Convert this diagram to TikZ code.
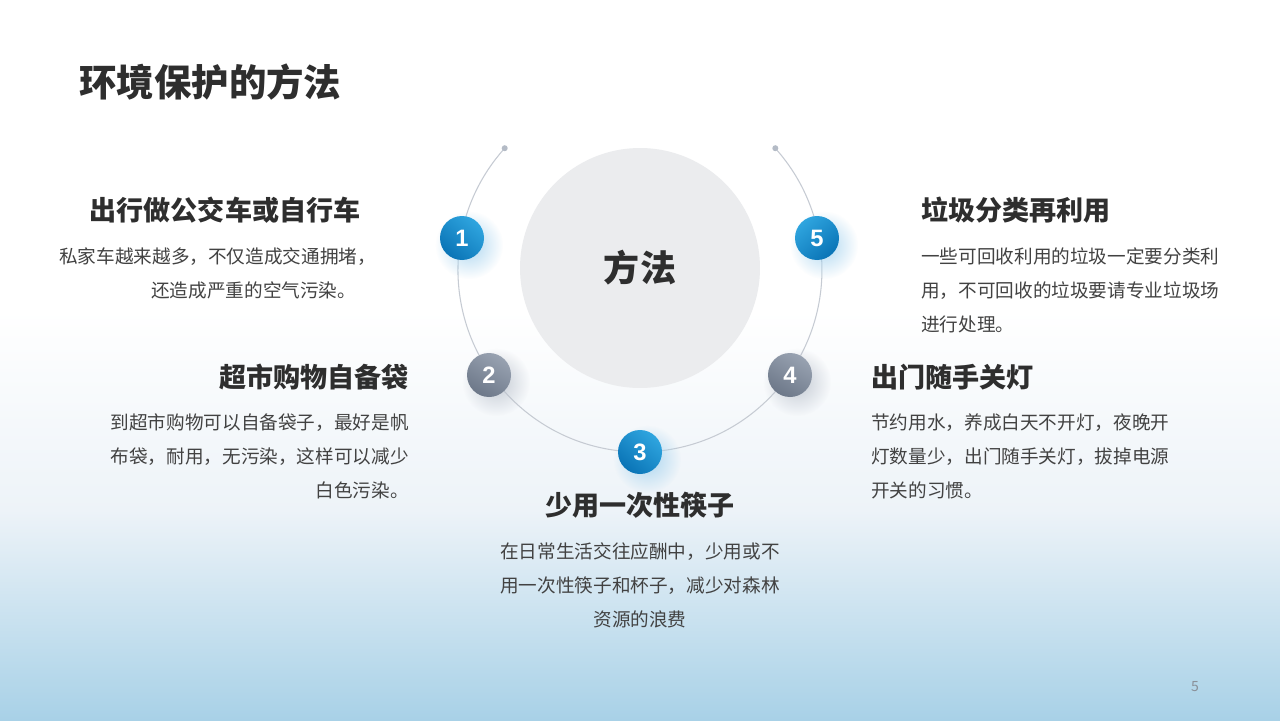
\documentclass[tikz,border=0pt]{standalone}
\usepackage{fontspec}
\setmainfont{Noto Sans CJK SC}
\newfontfamily\numfont{Liberation Sans}
\usetikzlibrary{fadings}

\definecolor{headtext}{HTML}{2E2E2E}
\definecolor{bodygray}{HTML}{424242}
\definecolor{bgmid}{HTML}{EDF3F8}
\definecolor{bgblue}{HTML}{A8D1E7}
\definecolor{arcgray}{HTML}{C6CBD3}
\definecolor{dotgray}{HTML}{B4BBC6}
\definecolor{hubgray}{HTML}{EBECEE}
\definecolor{blueA}{HTML}{2FA5DF}
\definecolor{blueB}{HTML}{0A74B6}
\definecolor{grayA}{HTML}{98A2B1}
\definecolor{grayB}{HTML}{6D7889}
\definecolor{blueglow}{HTML}{9FD0EE}
\definecolor{grayglow}{HTML}{B9C0CB}
\definecolor{pagegray}{HTML}{8A9099}

\tikzfading[name=softglow, inner color=transparent!15, outer color=transparent!100]

\begin{document}
\begin{tikzpicture}[
    x=0.02cm, y=0.02cm,
    pagetitle/.style={
        anchor=west,
        inner sep=0pt,
        text=headtext,
        font=\fontsize{21.3}{26}\selectfont\bfseries
    },
    heading/.style={
        inner sep=0pt,
        text=headtext,
        font=\fontsize{15.4}{19}\selectfont\bfseries
    },
    bodytext/.style={
        inner sep=0pt,
        text=bodygray,
        font=\fontsize{10.6}{19.35}\selectfont
    },
    numball/.style={
        circle,
        minimum size=0.88cm,
        inner sep=0pt,
        text=white,
        font=\numfont\bfseries\fontsize{13.5}{16}\selectfont
    },
    blueball/.style={numball, left color=blueA, right color=blueB, shading angle=#1},
    grayball/.style={numball, left color=grayA, right color=grayB, shading angle=-30},
    glow/.style={fill=#1, path fading=softglow},
    arcline/.style={draw=arcgray, line width=0.6pt}
]

% background
\useasboundingbox (0,0) rectangle (1280,-720);
\fill[white] (0,0) rectangle (1280,-720);
\shade[top color=white, bottom color=bgmid] (0,-310) rectangle (1280,-511);
\shade[top color=bgmid, bottom color=bgblue] (0,-510) rectangle (1280,-720);

% page title
\node[pagetitle] (title) at (79,-82) {环境保护的方法};

% --- ring and hub ---
\coordinate (ctr)      at (640,-270);
\coordinate (arcstart) at (504.7,-148.2);
\coordinate (arcend)   at (775.3,-148.2);

\draw[arcline] (arcstart) arc[start angle=138, end angle=402, radius=182];
\fill[dotgray] (arcstart) circle (3);
\fill[dotgray] (arcend) circle (3);

\node[circle, fill=hubgray, minimum size=4.8cm, inner sep=0pt, text=headtext,
      font=\fontsize{20.5}{24}\selectfont\bfseries] (hub) at (640,-268) {方法};

% --- numbered balls on the ring ---
\coordinate (p1) at (462,-238);
\coordinate (p2) at (489,-375);
\coordinate (p3) at (640,-452);
\coordinate (p4) at (790,-375);
\coordinate (p5) at (817,-238);

\fill[glow=blueglow] ([shift={(7,-7)}]p1) circle (34);
\fill[glow=grayglow] ([shift={(7,-7)}]p2) circle (34);
\fill[glow=blueglow] ([shift={(7,-7)}]p3) circle (34);
\fill[glow=grayglow] ([shift={(7,-7)}]p4) circle (34);
\fill[glow=blueglow] ([shift={(7,-7)}]p5) circle (34);

\node[blueball=-40] (b1) at (p1) {1};
\node[grayball]     (b2) at (p2) {2};
\node[blueball=-40] (b3) at (p3) {3};
\node[grayball]     (b4) at (p4) {4};
\node[blueball=40]  (b5) at (p5) {5};

% --- left side texts ---
\node[heading] (head1) at (225,-210) {出行做公交车或自行车};
\node[bodytext, anchor=north west, align=left] (body1) at (59,-247.5)
    {私家车越来越多，不仅造成交通拥堵，\\\hspace*{1.84cm}还造成严重的空气污染。};

\node[heading, anchor=east] (head2) at (409,-377) {超市购物自备袋};
\node[bodytext, anchor=north east, align=right] (body2) at (409,-413.5)
    {到超市购物可以自备袋子，最好是帆\\布袋，耐用，无污染，这样可以减少\\白色污染。};

% --- bottom text ---
\node[heading] (head3) at (640,-505) {少用一次性筷子};
\node[bodytext, anchor=north, align=center] (body3) at (640,-542.5)
    {在日常生活交往应酬中，少用或不\\用一次性筷子和杯子，减少对森林\\资源的浪费};

% --- right side texts ---
\node[heading, anchor=west] (head4) at (871,-377) {出门随手关灯};
\node[bodytext, anchor=north west, align=left] (body4) at (871,-413.5)
    {节约用水，养成白天不开灯，夜晚开\\灯数量少，出门随手关灯，拔掉电源\\开关的习惯。};

\node[heading, anchor=west] (head5) at (921,-210) {垃圾分类再利用};
\node[bodytext, anchor=north west, align=left] (body5) at (921,-247.5)
    {一些可回收利用的垃圾一定要分类利\\用，不可回收的垃圾要请专业垃圾场\\进行处理。};

% page number
\node[font=\fontsize{8}{9}\selectfont, text=pagegray] (pagenum) at (1195,-687) {5};

\end{tikzpicture}
\end{document}
